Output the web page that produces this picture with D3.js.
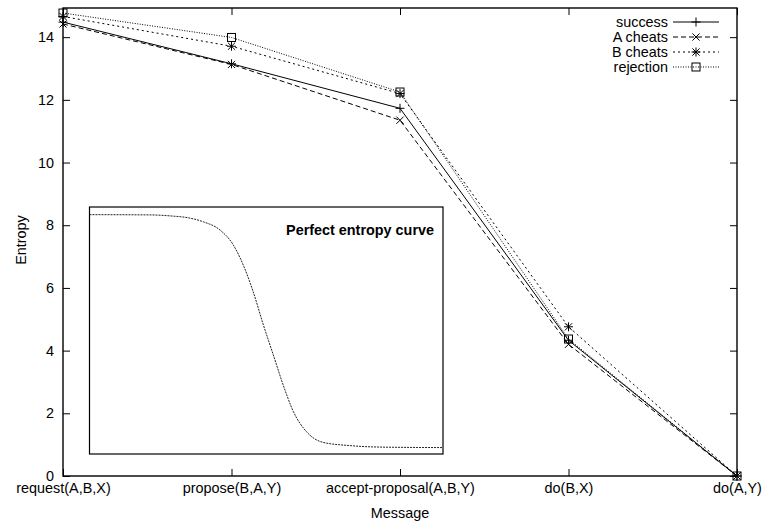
<!DOCTYPE html>
<html>
<head>
<meta charset="utf-8">
<script src="https://cdn.jsdelivr.net/npm/d3@7"></script>
<style>
  body { margin: 0; background: #fff; }
  text { font-family: "Liberation Sans", Arial, Helvetica, sans-serif; fill: #000; }
</style>
</head>
<body>
<svg id="chart"></svg>
<script>
// data
var messages = ["request(A,B,X)", "propose(B,A,Y)", "accept-proposal(A,B,Y)", "do(B,X)", "do(A,Y)"];
var success   = [14.48, 13.15, 11.73, 4.33, 0];
var aCheats   = [14.42, 13.13, 11.35, 4.20, 0];
var bCheats   = [14.66, 13.71, 12.20, 4.76, 0];
var rejection = [14.77, 13.99, 12.25, 4.37, 0];
var yTicks = [0, 2, 4, 6, 8, 10, 12, 14];

// inset "perfect entropy curve", normalised units
var curveX = [0, 0.171, 0.228, 0.284, 0.322, 0.369, 0.407, 0.435, 0.463, 0.492, 0.520, 0.548, 0.577, 0.614, 0.661, 0.737, 0.822, 1.0];
var curveY = [0.969, 0.968, 0.964, 0.955, 0.940, 0.907, 0.846, 0.765, 0.657, 0.522, 0.401, 0.279, 0.171, 0.090, 0.047, 0.034, 0.028, 0.026];

var W = 766, H = 528;
var plot = {left: 63, right: 737, top: 8, bottom: 476};

var series = [
  {name: "success",   values: success,   dash: null,    marker: "plus"},
  {name: "A cheats",  values: aCheats,   dash: "5,3",   marker: "cross"},
  {name: "B cheats",  values: bCheats,   dash: "2,3",   marker: "star"},
  {name: "rejection", values: rejection, dash: "1,1.5", marker: "square"}
];

var svg = d3.select("#chart").attr("width", W).attr("height", H);

var x = d3.scalePoint().domain(messages).range([plot.left, plot.right]);
var y = d3.scaleLinear().domain([0, 14.93]).range([plot.bottom, plot.top]);

// axes, ticks pointing inward
svg.append("g")
  .attr("transform", "translate(" + plot.left + ",0)")
  .call(d3.axisLeft(y).tickValues(yTicks).tickSizeInner(-7).tickSizeOuter(0).tickPadding(9))
  .call(function(g) { g.select(".domain").remove(); });
svg.append("g")
  .attr("transform", "translate(" + plot.right + ",0)")
  .call(d3.axisRight(y).tickValues(yTicks).tickSizeInner(-7).tickSizeOuter(0).tickFormat(""))
  .call(function(g) { g.select(".domain").remove(); });
svg.append("g")
  .attr("transform", "translate(0," + plot.bottom + ")")
  .call(d3.axisBottom(x).tickSizeInner(-7).tickSizeOuter(0).tickPadding(7))
  .call(function(g) { g.select(".domain").remove(); });
svg.append("g")
  .attr("transform", "translate(0," + plot.top + ")")
  .call(d3.axisTop(x).tickSizeInner(-7).tickSizeOuter(0).tickFormat(""))
  .call(function(g) { g.select(".domain").remove(); });

svg.selectAll(".tick line").attr("stroke", "#000").attr("stroke-width", 1);
svg.selectAll(".tick text")
  .style("font-family", "'Liberation Sans', Arial, Helvetica, sans-serif")
  .style("font-size", "14.4px")
  .attr("fill", "#000");

svg.append("rect")
  .attr("x", plot.left).attr("y", plot.top)
  .attr("width", plot.right - plot.left).attr("height", plot.bottom - plot.top)
  .attr("fill", "none").attr("stroke", "#000").attr("stroke-width", 1.4);

// axis titles
svg.append("text")
  .attr("x", (plot.left + plot.right) / 2).attr("y", 518)
  .attr("text-anchor", "middle").style("font-size", "14.4px")
  .text("Message");
svg.append("text")
  .attr("transform", "translate(26,240) rotate(-90)")
  .attr("text-anchor", "middle").style("font-size", "14.4px")
  .text("Entropy");

// inset
var inset = {left: 89.5, right: 443, top: 207, bottom: 454};
var ix = d3.scaleLinear().domain([0, 1]).range([inset.left, inset.right]);
var iy = d3.scaleLinear().domain([0, 1]).range([inset.bottom, inset.top]);
svg.append("rect")
  .attr("x", inset.left).attr("y", inset.top)
  .attr("width", inset.right - inset.left).attr("height", inset.bottom - inset.top)
  .attr("fill", "#fff").attr("stroke", "#000").attr("stroke-width", 1.2);
svg.append("path")
  .datum(d3.range(curveX.length))
  .attr("fill", "none").attr("stroke", "#222").attr("stroke-width", 1)
  .attr("stroke-dasharray", "2,1")
  .attr("d", d3.line().x(function(i) { return ix(curveX[i]); }).y(function(i) { return iy(curveY[i]); })
    .curve(d3.curveMonotoneX));
svg.append("text")
  .attr("x", 434).attr("y", 235)
  .attr("text-anchor", "end").style("font-size", "14.4px").style("font-weight", "bold")
  .text("Perfect entropy curve");

// markers
function drawMarker(g, type, cx, cy) {
  var s = 4.5;
  if (type === "plus" || type === "star") {
    g.append("path").attr("d", "M" + (cx - s) + "," + cy + "H" + (cx + s) + "M" + cx + "," + (cy - s) + "V" + (cy + s));
  }
  if (type === "cross" || type === "star") {
    var c = 3.6;
    g.append("path").attr("d", "M" + (cx - c) + "," + (cy - c) + "L" + (cx + c) + "," + (cy + c) +
      "M" + (cx - c) + "," + (cy + c) + "L" + (cx + c) + "," + (cy - c));
  }
  if (type === "square") {
    g.append("rect").attr("x", cx - 4).attr("y", cy - 4).attr("width", 8).attr("height", 8);
  }
}

var line = d3.line().x(function(d, i) { return x(messages[i]); }).y(function(d) { return y(d); });

series.forEach(function(s) {
  svg.append("path")
    .datum(s.values)
    .attr("fill", "none").attr("stroke", "#000").attr("stroke-width", 1)
    .attr("stroke-dasharray", s.dash)
    .attr("d", line);
  var mg = svg.append("g").attr("fill", "none").attr("stroke", "#000").attr("stroke-width", 1);
  s.values.forEach(function(v, i) { drawMarker(mg, s.marker, x(messages[i]), y(v)); });
});

// legend
var legend = svg.append("g");
series.forEach(function(s, i) {
  var ly = 22 + i * 15;
  legend.append("text")
    .attr("x", 668).attr("y", ly).attr("dy", "0.35em")
    .attr("text-anchor", "end").style("font-size", "14.4px")
    .text(s.name);
  legend.append("line")
    .attr("x1", 673).attr("x2", 719).attr("y1", ly).attr("y2", ly)
    .attr("stroke", "#000").attr("stroke-width", 1).attr("stroke-dasharray", s.dash);
  var mg = legend.append("g").attr("fill", "none").attr("stroke", "#000").attr("stroke-width", 1);
  drawMarker(mg, s.marker, 696, ly);
});
</script>
</body>
</html>
